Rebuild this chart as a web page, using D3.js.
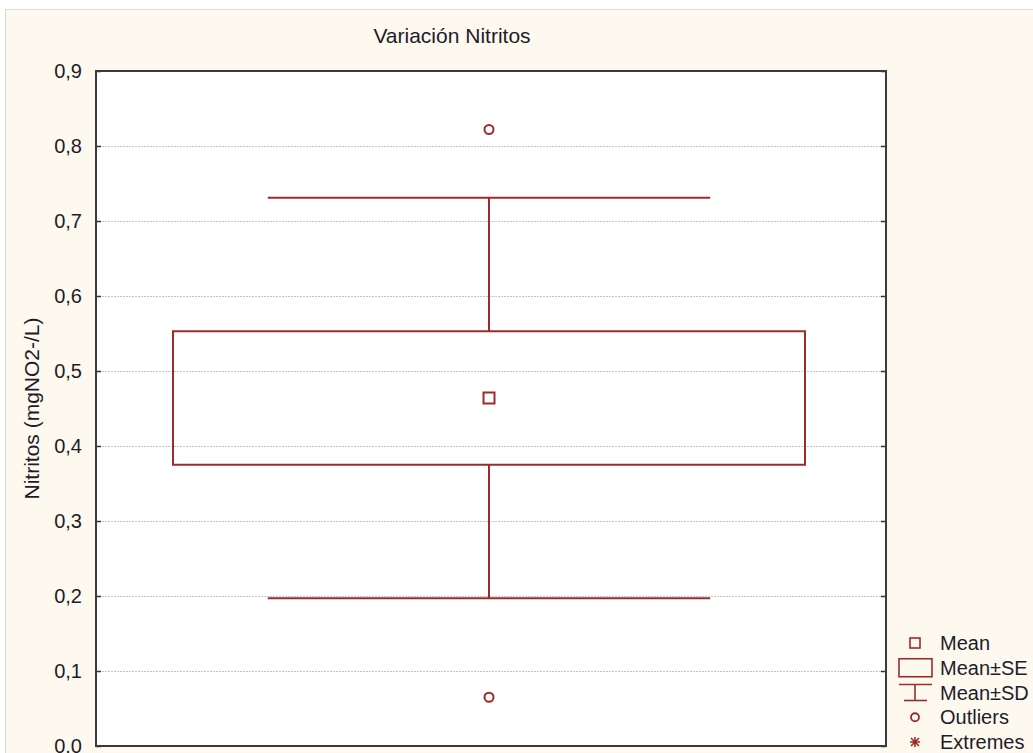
<!DOCTYPE html>
<html>
<head>
<meta charset="utf-8">
<script src="https://cdn.jsdelivr.net/npm/d3@7"></script>
<style>
  html, body { margin: 0; padding: 0; background: #fff; }
  svg text { font-family: "Liberation Sans", Arial, sans-serif; fill: #1c1c2a; }
</style>
</head>
<body>
<svg id="chart" width="1033" height="753"></svg>
<script>
// Nitrite variation: mean, standard error, standard deviation and outliers
const categories = ["Nitritos"];
const meanValues = [0.464];
const seValues = [0.089];
const sdValues = [0.267];
const outlierValues = [0.822, 0.065];
const yTickValues = [0, 0.1, 0.2, 0.3, 0.4, 0.5, 0.6, 0.7, 0.8, 0.9];
const legendLabels = ["Mean", "Mean±SE", "Mean±SD", "Outliers", "Extremes"];

const W = 1033, H = 753;
const plot = { left: 96, right: 886, top: 71, bottom: 746 };
const red = "#9e2b2b";
const fmt = d => d3.format(".1f")(d).replace(".", ",");

const svg = d3.select("#chart");

// panel background
svg.append("rect").attr("x", 5.5).attr("y", 9.5).attr("width", W).attr("height", H)
  .attr("fill", "#fef9ef").attr("stroke", "#dedbd6").attr("stroke-width", 1);

const x = d3.scaleBand().domain(categories).range([plot.left, plot.right]).padding(0);
const y = d3.scaleLinear().domain([0, 0.9]).range([plot.bottom, plot.top]);

// plot area
svg.append("rect").attr("x", plot.left).attr("y", plot.top)
  .attr("width", plot.right - plot.left).attr("height", plot.bottom - plot.top)
  .attr("fill", "#ffffff");

// dotted grid
svg.append("g").selectAll("line").data(yTickValues.filter(d => d > 0 && d < 0.9)).join("line")
  .attr("x1", plot.left).attr("x2", plot.right)
  .attr("y1", d => Math.round(y(d)) + 0.5).attr("y2", d => Math.round(y(d)) + 0.5)
  .attr("stroke", "#c4c4c4").attr("stroke-width", 1).attr("stroke-dasharray", "2,1");

// axes with inward ticks
const leftAxis = svg.append("g").attr("transform", `translate(${plot.left},0)`)
  .call(d3.axisLeft(y).tickValues(yTickValues).tickFormat(fmt).tickSizeInner(-5).tickSizeOuter(0).tickPadding(14));
leftAxis.select(".domain").remove();
leftAxis.selectAll(".tick line").attr("stroke", "#333").attr("stroke-width", 1.5);
leftAxis.selectAll(".tick text").attr("font-size", 20).attr("fill", "#1c1c2a")
  .style("font-family", "'Liberation Sans', Arial, sans-serif");

const rightAxis = svg.append("g").attr("transform", `translate(${plot.right},0)`)
  .call(d3.axisRight(y).tickValues(yTickValues).tickFormat("").tickSizeInner(-5).tickSizeOuter(0));
rightAxis.select(".domain").remove();
rightAxis.selectAll(".tick line").attr("stroke", "#333").attr("stroke-width", 1.5);

// frame
svg.append("rect").attr("x", plot.left).attr("y", plot.top)
  .attr("width", plot.right - plot.left).attr("height", plot.bottom - plot.top)
  .attr("fill", "none").attr("stroke", "#3a3a3a").attr("stroke-width", 2);

// box-and-whisker marks
const g = svg.append("g");
categories.forEach((c, i) => {
  const cx = x(c) + x.bandwidth() / 2 - 2;
  const boxW = x.bandwidth() * 0.8;
  const capW = x.bandwidth() * 0.56;
  const m = meanValues[i], se = seValues[i], sd = sdValues[i];

  // whiskers (mean ± SD)
  g.append("line").attr("x1", cx).attr("x2", cx).attr("y1", y(m + sd)).attr("y2", y(m + se))
    .attr("stroke", red).attr("stroke-width", 2);
  g.append("line").attr("x1", cx).attr("x2", cx).attr("y1", y(m - se)).attr("y2", y(m - sd))
    .attr("stroke", red).attr("stroke-width", 2);
  [m + sd, m - sd].forEach(v => {
    g.append("line").attr("x1", cx - capW / 2).attr("x2", cx + capW / 2)
      .attr("y1", y(v)).attr("y2", y(v)).attr("stroke", red).attr("stroke-width", 2);
  });

  // box (mean ± SE)
  g.append("rect").attr("x", cx - boxW / 2).attr("y", y(m + se))
    .attr("width", boxW).attr("height", y(m - se) - y(m + se))
    .attr("fill", "none").attr("stroke", red).attr("stroke-width", 2);

  // mean marker
  g.append("rect").attr("x", cx - 5.5).attr("y", y(m) - 5.5).attr("width", 11).attr("height", 11)
    .attr("fill", "none").attr("stroke", red).attr("stroke-width", 2);

  // outliers
  g.selectAll(".outlier").data(outlierValues).join("circle").attr("class", "outlier")
    .attr("cx", cx).attr("cy", d => y(d)).attr("r", 4.5)
    .attr("fill", "none").attr("stroke", red).attr("stroke-width", 2);
});

// title
svg.append("text").attr("x", 452).attr("y", 43).attr("text-anchor", "middle")
  .attr("font-size", 21).text("Variación Nitritos");

// y-axis label
svg.append("text").attr("transform", `translate(39,${(plot.top + plot.bottom) / 2}) rotate(-90)`)
  .attr("text-anchor", "middle").attr("font-size", 21).text("Nitritos (mgNO2-/L)");

// legend
const legY = d3.scalePoint().domain(legendLabels).range([643, 742]);
const lg = svg.append("g");
const lx = 915;
legendLabels.forEach(lbl => {
  const ly = legY(lbl);
  if (lbl === "Mean") {
    lg.append("rect").attr("x", lx - 5).attr("y", ly - 5).attr("width", 10).attr("height", 10)
      .attr("fill", "none").attr("stroke", red).attr("stroke-width", 1.6);
  } else if (lbl === "Mean±SE") {
    lg.append("rect").attr("x", lx - 16).attr("y", ly - 9).attr("width", 33).attr("height", 18)
      .attr("fill", "none").attr("stroke", red).attr("stroke-width", 1.6);
  } else if (lbl === "Mean±SD") {
    lg.append("line").attr("x1", lx - 16).attr("x2", lx + 17).attr("y1", ly - 8).attr("y2", ly - 8)
      .attr("stroke", red).attr("stroke-width", 1.6);
    lg.append("line").attr("x1", lx).attr("x2", lx).attr("y1", ly - 8).attr("y2", ly + 8)
      .attr("stroke", red).attr("stroke-width", 1.6);
    lg.append("line").attr("x1", lx - 11).attr("x2", lx + 12).attr("y1", ly + 8).attr("y2", ly + 8)
      .attr("stroke", red).attr("stroke-width", 1.6);
  } else if (lbl === "Outliers") {
    lg.append("circle").attr("cx", lx).attr("cy", ly).attr("r", 4)
      .attr("fill", "none").attr("stroke", red).attr("stroke-width", 1.8);
  } else {
    const s = 5;
    lg.append("path")
      .attr("d", `M${lx - s},${ly}H${lx + s}M${lx},${ly - s}V${ly + s}M${lx - s + 1},${ly - s + 1}L${lx + s - 1},${ly + s - 1}M${lx - s + 1},${ly + s - 1}L${lx + s - 1},${ly - s + 1}`)
      .attr("stroke", red).attr("stroke-width", 1.6);
  }
  lg.append("text").attr("x", 940).attr("y", ly + 7).attr("font-size", 20).text(lbl);
});
</script>
</body>
</html>
